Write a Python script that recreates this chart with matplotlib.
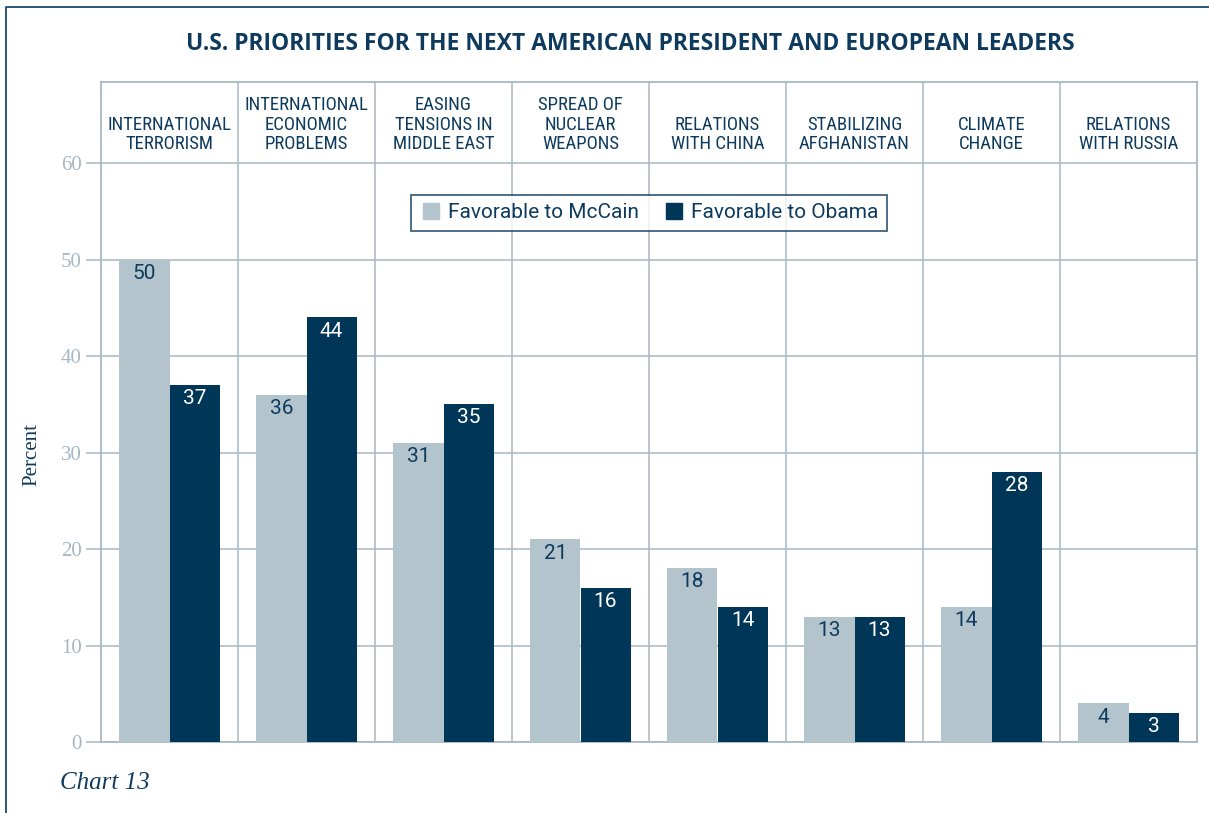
import matplotlib.pyplot as plt
from matplotlib.lines import Line2D
from matplotlib import font_manager
import numpy as np

# priorities and shares (percent) by candidate preference
categories = [
    "INTERNATIONAL\nTERRORISM",
    "INTERNATIONAL\nECONOMIC\nPROBLEMS",
    "EASING\nTENSIONS IN\nMIDDLE EAST",
    "SPREAD OF\nNUCLEAR\nWEAPONS",
    "RELATIONS\nWITH CHINA",
    "STABILIZING\nAFGHANISTAN",
    "CLIMATE\nCHANGE",
    "RELATIONS\nWITH RUSSIA",
]
mccain = [50, 36, 31, 21, 18, 13, 14, 4]
obama = [37, 44, 35, 16, 14, 13, 28, 3]
yticks = [0, 10, 20, 30, 40, 50, 60]

c_mccain = "#b4c4cc"
c_obama = "#003658"
c_text = "#0e3b5d"
c_grid = "#a8b8c3"
c_tick = "#a6b7c3"

# narrow face for the headers if one is installed
names = {f.name for f in font_manager.fontManager.ttflist}
head_font = next((n for n in ["Liberation Sans Narrow", "DejaVu Sans Condensed", "Roboto Condensed"]
                  if n in names), "Roboto")

fig = plt.figure(figsize=(12.09, 8.13), dpi=100)
ax = fig.add_axes([101 / 1209, 1 - 742 / 813, 1096 / 1209, 660 / 813])

x = np.arange(len(categories))
w = 0.365
b1 = ax.bar(x - w / 2, mccain, w, color=c_mccain, zorder=3)
b2 = ax.bar(x + w / 2, obama, w, color=c_obama, zorder=3)

# value labels just inside the top of each bar
for bars, vals, col in [(b1, mccain, c_text), (b2, obama, "white")]:
    for r, v in zip(bars, vals):
        ax.annotate(str(v), (r.get_x() + r.get_width() / 2, v), xytext=(0, -3.0),
                    textcoords="offset points", ha="center", va="top",
                    fontsize=15, color=col, family="Roboto", zorder=4)

ax.set_xlim(-0.5, len(categories) - 0.5)
ax.set_ylim(0, 68.4)
ax.set_yticks(yticks)
ax.set_xticks([])
ax.yaxis.grid(True, color=c_grid, lw=1.1, zorder=1)
for k in range(1, len(categories)):
    ax.axvline(k - 0.5, color=c_grid, lw=1.1, zorder=1)
for s in ax.spines.values():
    s.set_color(c_grid)
    s.set_linewidth(1.3)
ax.tick_params(axis="y", length=11, width=1.1, color=c_grid, pad=3,
               labelsize=15, labelcolor=c_tick)
for t in ax.get_yticklabels():
    t.set_family("Liberation Serif")

# category headers in the band above 60
for i, c in enumerate(categories):
    ax.text(i, 61.0, c, ha="center", va="bottom", fontsize=13.5, color=c_text,
            family=head_font, linespacing=1.12)

ax.set_ylabel("Percent", family="Liberation Serif", fontsize=15, color=c_text)
ax.yaxis.set_label_coords(-0.054, 0.435)

handles = [Line2D([], [], ls="", marker="s", markersize=11, color=c_mccain),
           Line2D([], [], ls="", marker="s", markersize=11, color=c_obama)]
leg = ax.legend(handles, ["Favorable to McCain", "Favorable to Obama"], ncol=2,
                loc="upper center", bbox_to_anchor=(0.5, 0.829), borderaxespad=0,
                frameon=True, fancybox=False, handletextpad=0.3, columnspacing=1.1,
                borderpad=0.4, handlelength=1.1,
                prop={"family": "Roboto", "size": 15})
leg.get_frame().set_edgecolor(c_text)
leg.get_frame().set_linewidth(1.3)
for t in leg.get_texts():
    t.set_color(c_text)

fig.text(630 / 1209, 1 - 44 / 813, "U.S. PRIORITIES FOR THE NEXT AMERICAN PRESIDENT AND EUROPEAN LEADERS",
         ha="center", va="center", fontsize=16.5, fontweight="bold", color=c_text, family="Open Sans")
fig.text(60 / 1209, 1 - 783 / 813, "Chart 13", ha="left", va="center", fontsize=18,
         style="italic", color=c_text, family="Liberation Serif")

# page frame: left and top rules
fig.add_artist(Line2D([6 / 1209, 6 / 1209, 1], [0, 1 - 7 / 813, 1 - 7 / 813],
                      color="#1d4a6b", lw=1.3, transform=fig.transFigure))

fig.savefig("out.png", dpi=100)
